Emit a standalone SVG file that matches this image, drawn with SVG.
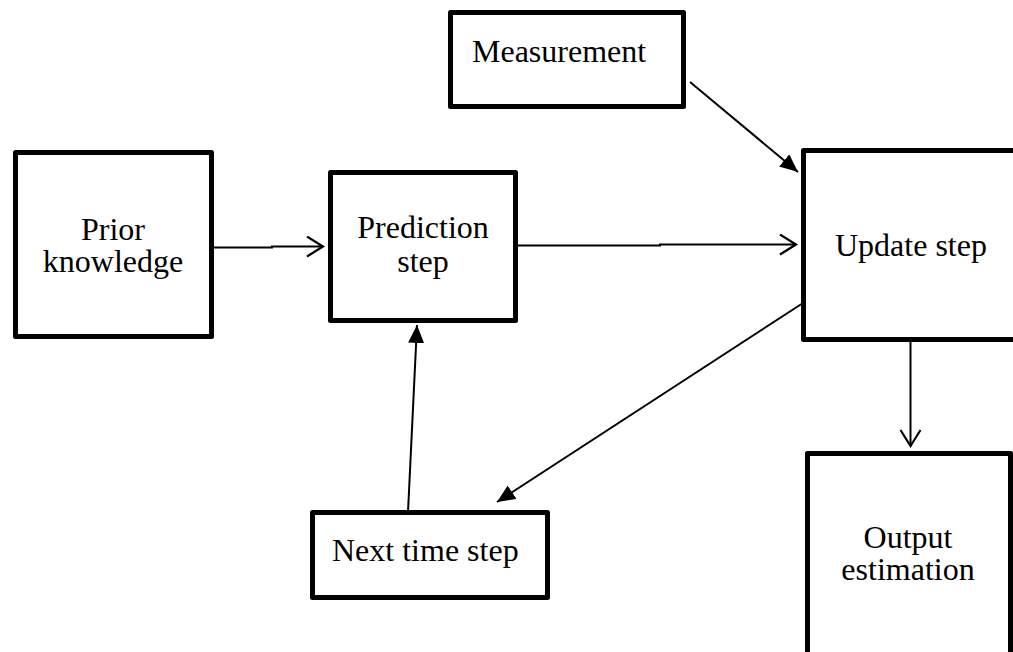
<svg xmlns="http://www.w3.org/2000/svg" width="1013" height="652" viewBox="0 0 1013 652">
  <style>
    .box { fill: #ffffff; stroke: #000000; stroke-width: 5; stroke-linejoin: round; }
    .lbl { font-family: "Liberation Serif", "Times New Roman", serif; font-size: 32px; fill: #000000; }
    .mid { text-anchor: middle; }
    .edge { fill: none; stroke: #000000; stroke-width: 2; }
  </style>
  <defs>
    <marker id="open" markerUnits="userSpaceOnUse" markerWidth="20" markerHeight="24" refX="17" refY="11" orient="auto">
      <path d="M1,1 L17,11 L1,21" fill="none" stroke="#000" stroke-width="2.2"/>
    </marker>
    <marker id="solid" markerUnits="userSpaceOnUse" markerWidth="20" markerHeight="18" refX="18" refY="8" orient="auto">
      <path d="M0,0 L18,8 L0,16 Z" fill="#000"/>
    </marker>
  </defs>

  <rect width="1013" height="652" fill="#ffffff"/>

  <g id="prior">
    <rect class="box" x="15.5" y="152.5" width="196" height="184"/>
    <text class="lbl mid" x="113" y="240">Prior</text>
    <text class="lbl mid" x="113" y="272">knowledge</text>
  </g>

  <g id="prediction">
    <rect class="box" x="330.5" y="172.5" width="185" height="148"/>
    <text class="lbl mid" x="423" y="238">Prediction</text>
    <text class="lbl mid" x="423" y="272">step</text>
  </g>

  <g id="measurement">
    <rect class="box" x="450.5" y="12.5" width="233" height="94"/>
    <text class="lbl" x="472" y="62">Measurement</text>
  </g>

  <g id="update">
    <rect class="box" x="803.5" y="150.5" width="230" height="189"/>
    <text class="lbl" x="835" y="256">Update step</text>
  </g>

  <g id="next">
    <rect class="box" x="312.5" y="512.5" width="235" height="85"/>
    <text class="lbl" x="332" y="561">Next time step</text>
  </g>

  <g id="output">
    <rect class="box" x="807.5" y="453.5" width="203" height="230"/>
    <text class="lbl mid" x="908" y="548">Output</text>
    <text class="lbl mid" x="908" y="580">estimation</text>
  </g>

  <g id="connectors">
    <path class="edge" d="M214,247.5 H272 V246.5 H323" marker-end="url(#open)"/>
    <path class="edge" d="M518,245.5 H660 V244.5 H796" marker-end="url(#open)"/>
    <path class="edge" d="M910.5,341 V400 V446" marker-end="url(#open)"/>
    <path class="edge" d="M690,82 L798,172" marker-end="url(#solid)"/>
    <path class="edge" d="M803,303 L497,502" marker-end="url(#solid)"/>
    <path class="edge" d="M408,512 L417,325" marker-end="url(#solid)"/>
  </g>
</svg>
